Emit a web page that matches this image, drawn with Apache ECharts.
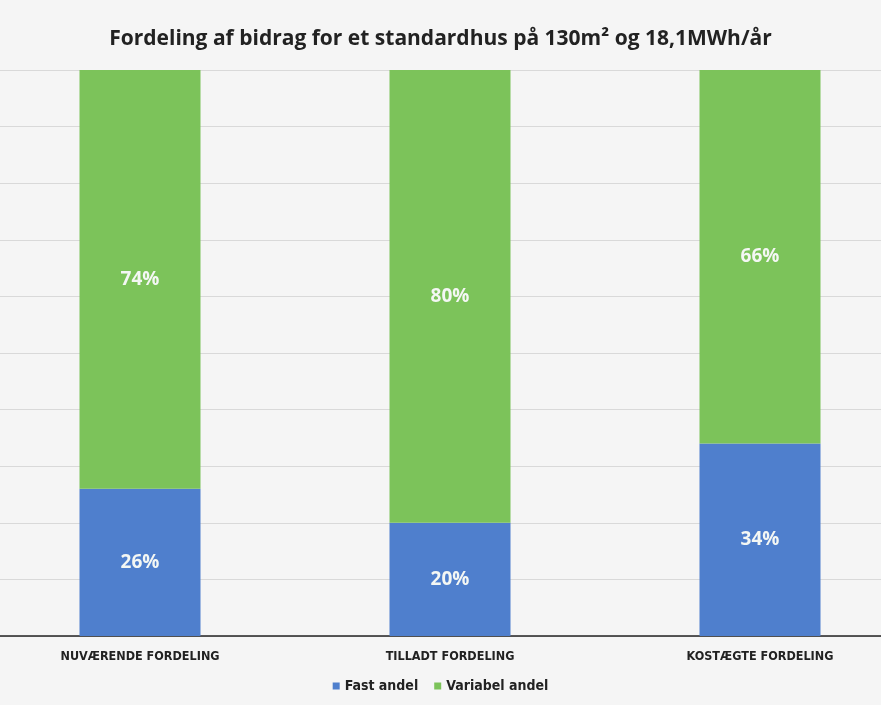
<!DOCTYPE html>
<html>
<head>
<meta charset="utf-8">
<script src="https://cdn.jsdelivr.net/npm/echarts@6/dist/echarts.min.js"></script>
<style>
  html, body { margin: 0; padding: 0; background: #f5f5f5; }
  #chart { width: 881px; height: 705px; }
</style>
</head>
<body>
<div id="chart"></div>
<script>
const categories = ['NUVÆRENDE FORDELING', 'TILLADT FORDELING', 'KOSTÆGTE FORDELING'];
const fastAndel = [26, 20, 34];
const variabelAndel = [74, 80, 66];

const chart = echarts.init(document.getElementById('chart'));

const labelStyle = {
    show: true,
    position: 'inside',
    color: '#f4f7f4',
    fontFamily: 'Open Sans',
    fontWeight: 'bold',
    fontSize: 19,
    formatter: p => p.value + '%'
};

const smallFont = '"DejaVu Sans Condensed", "Open Sans", sans-serif';

chart.setOption({
    backgroundColor: '#f5f5f5',
    title: {
        text: 'Fordeling af bidrag for et standardhus på 130m² og 18,1MWh/år',
        left: 'center',
        top: 24,
        textStyle: {
            fontFamily: 'Open Sans',
            fontWeight: 'bold',
            fontSize: 21,
            color: '#222'
        }
    },
    legend: {
        bottom: 7,
        left: 'center',
        itemWidth: 7,
        itemHeight: 7,
        itemGap: 16,
        icon: 'rect',
        textStyle: { fontFamily: smallFont, fontWeight: 'bold', fontSize: 14, color: '#222' },
        data: ['Fast andel', 'Variabel andel']
    },
    grid: {
        left: -15,
        right: -34,
        top: 70,
        bottom: 69,
        outerBoundsMode: 'none'
    },
    xAxis: {
        type: 'category',
        data: categories,
        axisTick: { show: false },
        axisLine: { lineStyle: { color: '#222', width: 1.5 } },
        axisLabel: {
            margin: 14,
            fontFamily: smallFont,
            fontWeight: 'bold',
            fontSize: 12.5,
            color: '#222'
        }
    },
    yAxis: {
        type: 'value',
        min: 0,
        max: 100,
        interval: 10,
        axisLabel: { show: false },
        axisLine: { show: false },
        splitLine: { lineStyle: { color: '#d9d9d9', width: 1 } }
    },
    series: [
        {
            name: 'Fast andel',
            type: 'bar',
            stack: 'total',
            barWidth: 121,
            data: fastAndel,
            itemStyle: { color: '#4f7fcd' },
            label: labelStyle
        },
        {
            name: 'Variabel andel',
            type: 'bar',
            stack: 'total',
            barWidth: 121,
            data: variabelAndel,
            itemStyle: { color: '#7cc35a' },
            label: labelStyle
        }
    ]
});
</script>
</body>
</html>
